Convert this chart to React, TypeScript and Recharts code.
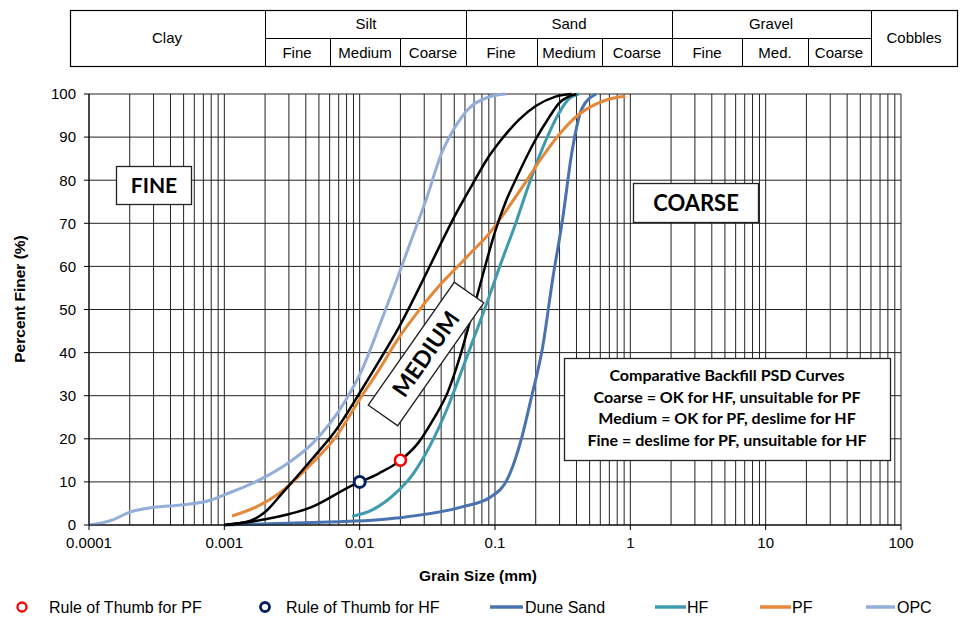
import React from 'react';
import { ComposedChart, Line, XAxis, YAxis, CartesianGrid } from 'recharts';

// x axis: log decades and the minor steps inside each one
const decades = [0.0001, 0.001, 0.01, 0.1, 1, 10, 100];
const minorSteps = [1, 2, 3, 4, 5, 6, 7, 8, 9];
const yTicks = [0, 10, 20, 30, 40, 50, 60, 70, 80, 90, 100];

// grain size (mm) vs percent finer (%)
const duneSand = [
  { x: 0.001, y: 0 }, { x: 0.0059, y: 0.7 }, { x: 0.0139, y: 1.2 }, { x: 0.0186, y: 1.6 },
  { x: 0.0571, y: 4.2 }, { x: 0.093, y: 6.5 }, { x: 0.125, y: 11 }, { x: 0.158, y: 20.4 },
  { x: 0.186, y: 29.7 }, { x: 0.225, y: 41.3 }, { x: 0.266, y: 56.8 }, { x: 0.316, y: 71 },
  { x: 0.37, y: 86.5 }, { x: 0.44, y: 96.7 }, { x: 0.56, y: 100 },
];

const hf = [
  { x: 0.0088, y: 2 }, { x: 0.0124, y: 3.5 }, { x: 0.0186, y: 7.5 }, { x: 0.025, y: 12 },
  { x: 0.0326, y: 18 }, { x: 0.045, y: 27.5 }, { x: 0.0571, y: 36 }, { x: 0.07, y: 43.5 },
  { x: 0.0859, y: 51 }, { x: 0.107, y: 59.5 }, { x: 0.144, y: 70.5 }, { x: 0.178, y: 79 },
  { x: 0.225, y: 87.5 }, { x: 0.296, y: 95.5 }, { x: 0.35, y: 98.8 }, { x: 0.418, y: 100 },
];

const pf = [
  { x: 0.00114, y: 2.1 }, { x: 0.0018, y: 4.5 }, { x: 0.0025, y: 7.2 }, { x: 0.0045, y: 14.5 },
  { x: 0.0065, y: 20 }, { x: 0.0104, y: 30 }, { x: 0.0139, y: 36 }, { x: 0.0186, y: 42.5 },
  { x: 0.027, y: 49.5 }, { x: 0.0387, y: 55.5 }, { x: 0.055, y: 60.5 }, { x: 0.0679, y: 63.5 },
  { x: 0.09, y: 67.5 }, { x: 0.112, y: 71.5 }, { x: 0.16, y: 78.5 }, { x: 0.225, y: 85.5 },
  { x: 0.296, y: 90.5 }, { x: 0.418, y: 95.3 }, { x: 0.56, y: 97.7 }, { x: 0.82, y: 99.3 },
  { x: 0.92, y: 99.5 },
];

const opc = [
  { x: 0.0001, y: 0 }, { x: 0.00015, y: 1.2 }, { x: 0.0002, y: 3 }, { x: 0.0003, y: 4.1 },
  { x: 0.0005, y: 4.7 }, { x: 0.0008, y: 5.8 }, { x: 0.001, y: 7 }, { x: 0.0018, y: 10.4 },
  { x: 0.003, y: 14.5 }, { x: 0.0045, y: 19 }, { x: 0.0079, y: 29 }, { x: 0.0104, y: 36 },
  { x: 0.0139, y: 46 }, { x: 0.0186, y: 56.5 }, { x: 0.024, y: 66 }, { x: 0.031, y: 75.5 },
  { x: 0.04, y: 86 }, { x: 0.05, y: 92 }, { x: 0.0644, y: 96.7 }, { x: 0.09, y: 99.3 },
  { x: 0.12, y: 100 },
];

// black envelope of the "medium" zone
const mediumUpper = [
  { x: 0.001, y: 0 }, { x: 0.0015, y: 0.8 }, { x: 0.002, y: 3 }, { x: 0.0027, y: 7.5 },
  { x: 0.0045, y: 15.5 }, { x: 0.0065, y: 21.5 }, { x: 0.0104, y: 31.5 }, { x: 0.0139, y: 38 },
  { x: 0.02, y: 46.5 }, { x: 0.028, y: 55.5 }, { x: 0.038, y: 64 }, { x: 0.05, y: 71.5 },
  { x: 0.068, y: 79 }, { x: 0.09, y: 85.5 }, { x: 0.112, y: 89.5 }, { x: 0.15, y: 94 },
  { x: 0.2, y: 97.2 }, { x: 0.28, y: 99.4 }, { x: 0.37, y: 100 },
];

const mediumLower = [
  { x: 0.001, y: 0 }, { x: 0.0019, y: 1.2 }, { x: 0.00445, y: 4.2 }, { x: 0.0088, y: 9.2 },
  { x: 0.0139, y: 12 }, { x: 0.02, y: 15 }, { x: 0.027, y: 19 }, { x: 0.035, y: 24.5 },
  { x: 0.045, y: 31 }, { x: 0.055, y: 39 }, { x: 0.065, y: 47 }, { x: 0.075, y: 54 },
  { x: 0.088, y: 62 }, { x: 0.1, y: 68 }, { x: 0.12, y: 75 }, { x: 0.144, y: 80.5 },
  { x: 0.2, y: 89.5 }, { x: 0.25, y: 94.5 }, { x: 0.3, y: 98 }, { x: 0.4, y: 100 },
];

const ruleOfThumbPF = [{ x: 0.02, y: 15 }];
const ruleOfThumbHF = [{ x: 0.01, y: 10 }];

const infoLines = [
  'Comparative Backfill PSD Curves',
  'Coarse = OK for HF, unsuitable for PF',
  'Medium = OK for PF, deslime for HF',
  'Fine = deslime for PF, unsuitable for HF',
];

const xTicks = [
  ...decades.slice(0, -1).flatMap((d) => minorSteps.map((m) => d * m)),
  decades[decades.length - 1],
];
const decadeSet = new Set(decades);

const C_DUNE = '#4873B0';
const C_HF = '#3E9BAF';
const C_PF = '#E4883A';
const C_OPC = '#93AED8';

const FONT = '"Liberation Sans", Arial, sans-serif';
const BOX_FONT = 'Lato, "Noto Sans", sans-serif';

const XTick = (props: any) => {
  const { x, y, payload } = props;
  if (!decadeSet.has(payload.value)) return <g />;
  return (
    <g>
      <line x1={x} x2={x} y1={y - 8} y2={y - 3} stroke="#000" />
      <text x={x} y={y} dy={15} textAnchor="middle" fontSize={15} fontFamily={FONT} fill="#000">
        {String(payload.value)}
      </text>
    </g>
  );
};

const Header = () => {
  const majors = [265, 466, 672, 871];
  const minors = [330, 400, 537, 602, 742, 808];
  const top = [
    { t: 'Clay', x: 167, y: 43 },
    { t: 'Silt', x: 366, y: 29 },
    { t: 'Sand', x: 569, y: 29 },
    { t: 'Gravel', x: 771, y: 29 },
    { t: 'Cobbles', x: 914, y: 43 },
  ];
  const sub = [
    { t: 'Fine', x: 297 }, { t: 'Medium', x: 365 }, { t: 'Coarse', x: 433 },
    { t: 'Fine', x: 501 }, { t: 'Medium', x: 569 }, { t: 'Coarse', x: 637 },
    { t: 'Fine', x: 707 }, { t: 'Med.', x: 775 }, { t: 'Coarse', x: 839 },
  ];
  return (
    <g fontFamily={FONT} fontSize={15} fill="#000">
      <rect x={70.5} y={10.5} width={887} height={56} fill="#fff" stroke="#000" strokeWidth={1.2} />
      <line x1={265} x2={871} y1={38.5} y2={38.5} stroke="#000" />
      {majors.map((x) => (
        <line key={x} x1={x + 0.5} x2={x + 0.5} y1={10} y2={67} stroke="#000" />
      ))}
      {minors.map((x) => (
        <line key={x} x1={x + 0.5} x2={x + 0.5} y1={38} y2={67} stroke="#000" />
      ))}
      {top.map((d) => (
        <text key={d.t} x={d.x} y={d.y} textAnchor="middle">{d.t}</text>
      ))}
      {sub.map((d, i) => (
        <text key={i} x={d.x} y={58} textAnchor="middle">{d.t}</text>
      ))}
    </g>
  );
};

const Overlay = () => (
  <svg width={960} height={619} style={{ position: 'absolute', left: 0, top: 0, pointerEvents: 'none' }}>
    <Header />

    {/* zone labels */}
    <g fontFamily={BOX_FONT} fontWeight={700} fill="#000">
      <rect x={116.5} y={166.5} width={75} height={38} fill="#fff" stroke="#222" strokeWidth={1.3} />
      <text x={154} y={193} textAnchor="middle" fontSize={21}>FINE</text>

      <rect x={633.5} y={183.5} width={125} height={39} fill="#fff" stroke="#222" strokeWidth={1.3} />
      <text x={696} y={211} textAnchor="middle" fontSize={22}>COARSE</text>

      <g transform="translate(426,354) rotate(-55)">
        <rect x={-75} y={-18} width={150} height={36} fill="#fff" stroke="#222" strokeWidth={1.3} />
        <text x={0} y={8} textAnchor="middle" fontSize={23}>MEDIUM</text>
      </g>

      <rect x={564.5} y={358.5} width={326} height={102} fill="#fff" stroke="#222" strokeWidth={1.3} />
      {infoLines.map((t, i) => (
        <text key={i} x={727} y={381 + i * 21.5} textAnchor="middle" fontSize={16}>{t}</text>
      ))}
    </g>

    {/* axis titles */}
    <text x={478} y={581} textAnchor="middle" fontFamily={FONT} fontWeight={700} fontSize={15.5}>
      Grain Size (mm)
    </text>
    <text
      transform="translate(25,299) rotate(-90)"
      textAnchor="middle"
      fontFamily={FONT}
      fontWeight={700}
      fontSize={15.5}
    >
      Percent Finer (%)
    </text>

    {/* legend */}
    <g fontFamily={FONT} fontSize={16} fill="#000">
      <circle cx={22} cy={607} r={4.5} fill="#fff" stroke="#FF0000" strokeWidth={2.3} />
      <text x={49} y={613}>Rule of Thumb for PF</text>
      <circle cx={265} cy={607} r={4.5} fill="#fff" stroke="#002060" strokeWidth={2.8} />
      <text x={286} y={613}>Rule of Thumb for HF</text>
      <line x1={490} x2={523} y1={607} y2={607} stroke={C_DUNE} strokeWidth={3.5} />
      <text x={525} y={613}>Dune Sand</text>
      <line x1={655} x2={686} y1={607} y2={607} stroke={C_HF} strokeWidth={3.5} />
      <text x={687} y={613}>HF</text>
      <line x1={760} x2={791} y1={607} y2={607} stroke={C_PF} strokeWidth={3.5} />
      <text x={792} y={613}>PF</text>
      <line x1={866} x2={895} y1={607} y2={607} stroke={C_OPC} strokeWidth={3.5} />
      <text x={897} y={613}>OPC</text>
    </g>
  </svg>
);

const App = () => {
  return (
    <div style={{ position: 'absolute', left: 0, top: 0, width: 960, height: 619, background: '#fff' }}>
      <div style={{ position: 'absolute', left: 0, top: 0 }}>
        <ComposedChart width={960} height={619} margin={{ top: 94, right: 59, bottom: 64, left: 0 }}>
          <CartesianGrid stroke="#222" strokeWidth={1} />
          <XAxis
            dataKey="x"
            type="number"
            scale="log"
            domain={[0.0001, 100]}
            ticks={xTicks}
            allowDataOverflow
            interval={0}
            height={30}
            tickLine={false}
            tick={<XTick />}
            axisLine={{ stroke: '#000' }}
          />
          <YAxis
            type="number"
            domain={[0, 100]}
            ticks={yTicks}
            width={89}
            tickSize={5}
            tickMargin={8}
            tick={{ fontSize: 15, fill: '#000', fontFamily: FONT }}
            tickLine={{ stroke: '#000' }}
            axisLine={{ stroke: '#000' }}
          />
          <Line data={duneSand} dataKey="y" type="monotone" stroke={C_DUNE} strokeWidth={3} dot={false} isAnimationActive={false} />
          <Line data={hf} dataKey="y" type="monotone" stroke={C_HF} strokeWidth={3} dot={false} isAnimationActive={false} />
          <Line data={pf} dataKey="y" type="monotone" stroke={C_PF} strokeWidth={3} dot={false} isAnimationActive={false} />
          <Line data={opc} dataKey="y" type="monotone" stroke={C_OPC} strokeWidth={3} dot={false} isAnimationActive={false} />
          <Line data={mediumUpper} dataKey="y" type="monotone" stroke="#000" strokeWidth={2.5} dot={false} isAnimationActive={false} />
          <Line data={mediumLower} dataKey="y" type="monotone" stroke="#000" strokeWidth={2.5} dot={false} isAnimationActive={false} />
          <Line
            data={ruleOfThumbPF}
            dataKey="y"
            stroke="#FF0000"
            dot={{ r: 5.5, fill: '#fff', stroke: '#FF0000', strokeWidth: 2.5 }}
            isAnimationActive={false}
          />
          <Line
            data={ruleOfThumbHF}
            dataKey="y"
            stroke="#002060"
            dot={{ r: 5.5, fill: '#fff', stroke: '#002060', strokeWidth: 3 }}
            isAnimationActive={false}
          />
        </ComposedChart>
      </div>
      <Overlay />
    </div>
  );
};

export default App;
